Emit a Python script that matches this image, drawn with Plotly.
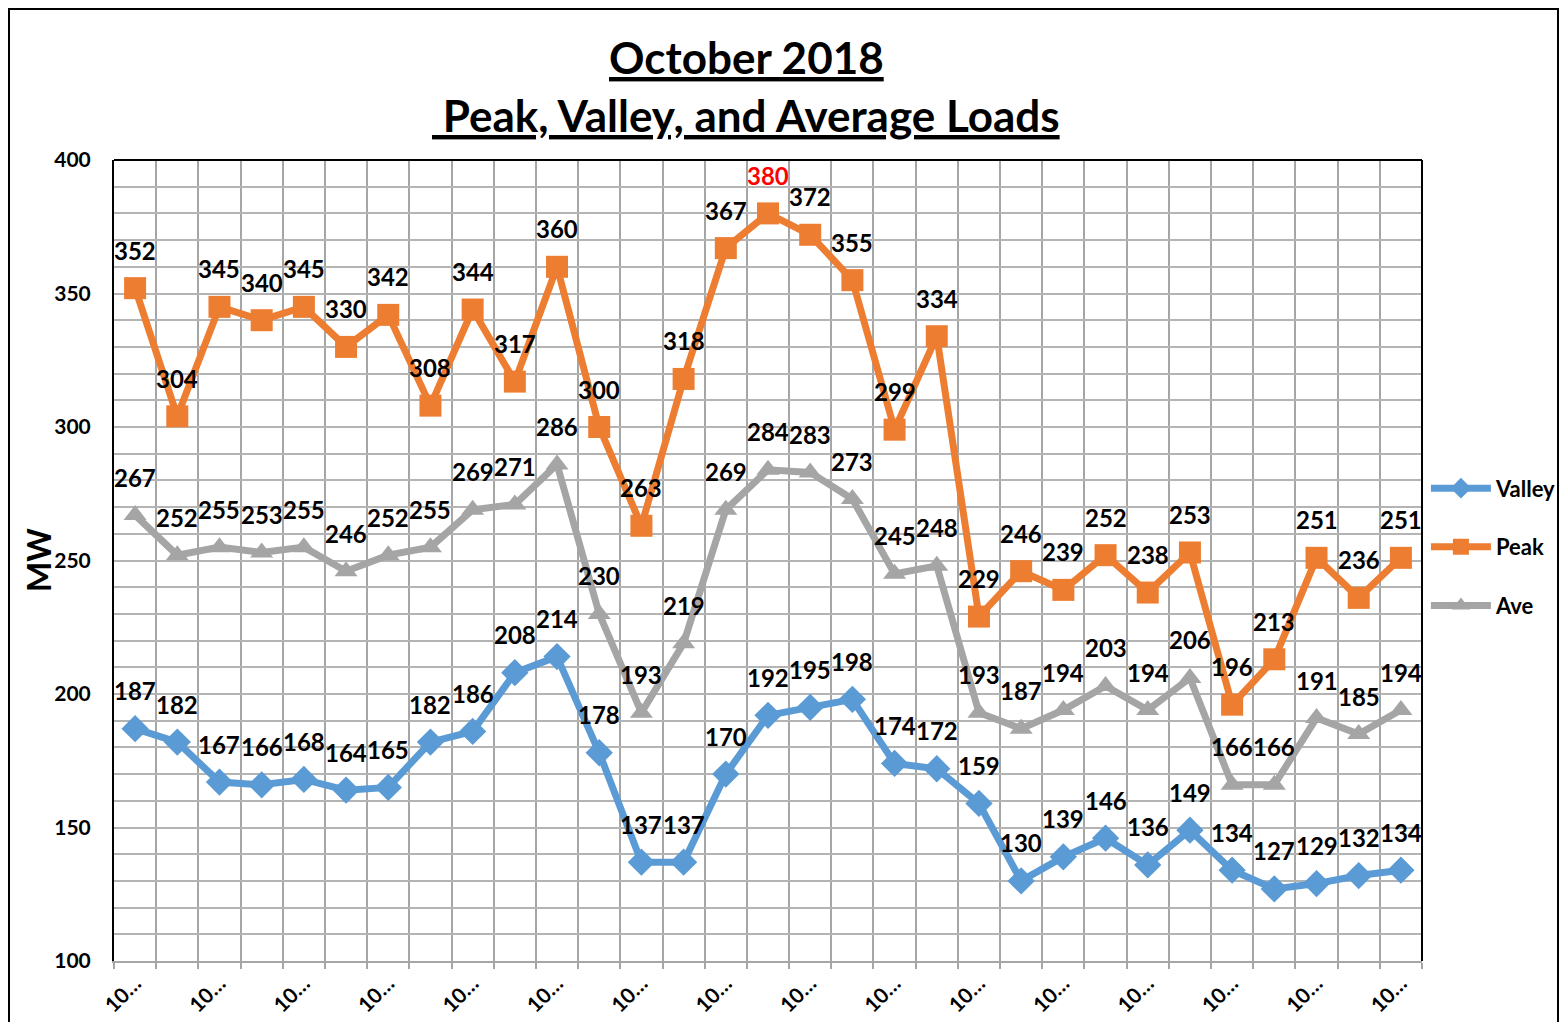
import plotly.graph_objects as go

# daily loads for October 2018 (MW)
dias = [f"10/{d}/2018" for d in range(1, 32)]
valley = [187, 182, 167, 166, 168, 164, 165, 182, 186, 208, 214, 178, 137, 137, 170, 192,
          195, 198, 174, 172, 159, 130, 139, 146, 136, 149, 134, 127, 129, 132, 134]
peak = [352, 304, 345, 340, 345, 330, 342, 308, 344, 317, 360, 300, 263, 318, 367, 380,
        372, 355, 299, 334, 229, 246, 239, 252, 238, 253, 196, 213, 251, 236, 251]
ave = [267, 252, 255, 253, 255, 246, 252, 255, 269, 271, 286, 230, 193, 219, 269, 284,
       283, 273, 245, 248, 193, 187, 194, 203, 194, 206, 166, 166, 191, 185, 194]
tick_text = "10\u2026"

FONT = "Lato"
x = [int(d.split("/")[1]) for d in dias]

# a página do html tem margem de 8px, por isso tudo vai deslocado 8px
W, H = 1552, 1014
L, R, T, B = 106, 1414, 152, 953   # área de plotagem em px da figura
PW, PH = R - L, B - T


def px_x(p):
    return (p - L) / PW


def px_y(p):
    return (B - p) / PH


series = [
    ("Valley", valley, "#5B9BD5", "diamond", 21),
    ("Peak", peak, "#ED7D31", "square", 22),
    ("Ave", ave, "#A5A5A5", "triangle-up", 20),
]

fig = go.Figure()
for nome, vals, cor, simb, tam in series:
    fig.add_trace(go.Scatter(
        x=x, y=vals, name=nome, legendgroup=nome,
        mode="lines+markers",
        line=dict(color=cor, width=7),
        marker=dict(symbol=simb, size=tam, color=cor),
        cliponaxis=False,
    ))
    # rótulos de dados acima de cada ponto
    for xi, v in zip(x, vals):
        cor_txt = "red" if (nome == "Peak" and v == max(peak)) else "black"
        fig.add_annotation(x=xi, y=v, text=str(v), showarrow=False,
                           yshift=38, xanchor="center", yanchor="middle",
                           font=dict(family=FONT, size=24, color=cor_txt, weight="bold"))

fig.update_layout(
    width=W, height=H,
    margin=dict(l=L, r=W - R, t=T, b=H - B, autoexpand=False),
    paper_bgcolor="white", plot_bgcolor="white",
    font=dict(family=FONT, color="black"),
    showlegend=True,
    legend=dict(
        x=1.003, y=0.517, xanchor="left", yanchor="middle",
        font=dict(family=FONT, size=22, weight="bold"),
        itemwidth=60, tracegroupgap=27, traceorder="grouped",
        bgcolor="rgba(0,0,0,0)",
    ),
)

fig.update_xaxes(
    range=[0.5, 31.5],
    tickvals=x[::2], ticktext=[tick_text] * len(x[::2]),
    tickangle=-45, ticks="", showgrid=False,
    tickfont=dict(family=FONT, size=21, weight="bold"),
    showline=True, linecolor="#a6a6a6", linewidth=2,
    minor=dict(tickvals=[i + 0.5 for i in range(0, 32)], showgrid=True,
               gridcolor="#a6a6a6", gridwidth=2, ticks="outside", ticklen=6,
               tickcolor="#a6a6a6", tickwidth=2),
    zeroline=False,
)
fig.update_yaxes(
    range=[100, 400], dtick=50, tick0=100,
    showgrid=True, gridcolor="#b4b4b4", gridwidth=2,
    ticks="", ticklabelstandoff=17,
    tickfont=dict(family=FONT, size=21, weight="bold"),
    minor=dict(dtick=10, showgrid=True, gridcolor="#b4b4b4", gridwidth=2),
    showline=True, linecolor="black", linewidth=2,
    zeroline=False,
)

# moldura da área de plotagem (topo e direita) e moldura externa
fig.add_shape(type="line", xref="paper", yref="paper", x0=0, x1=1, y0=1, y1=1,
              line=dict(color="black", width=2))
fig.add_shape(type="line", xref="paper", yref="paper", x0=1, x1=1, y0=0, y1=1,
              line=dict(color="black", width=2))
fig.add_shape(type="rect", xref="paper", yref="paper",
              x0=px_x(1), x1=px_x(1550), y0=px_y(H + 20), y1=px_y(1),
              line=dict(color="black", width=2), layer="below")

# título
fig.add_annotation(text="<u>October 2018</u>", xref="paper", yref="paper",
                   x=px_x(738), y=px_y(49), xanchor="center", yanchor="middle",
                   showarrow=False, font=dict(family=FONT, size=44, weight="bold"))
fig.add_annotation(text="<u> Peak, Valley, and Average Loads</u>", xref="paper", yref="paper",
                   x=px_x(738), y=px_y(107), xanchor="center", yanchor="middle",
                   showarrow=False, font=dict(family=FONT, size=44, weight="bold"))
fig.add_annotation(text="MW", xref="paper", yref="paper",
                   x=px_x(30), y=px_y(552), xanchor="center", yanchor="middle",
                   textangle=-90, showarrow=False, font=dict(family=FONT, size=32, weight="bold"))

fig.write_html("out.html")
